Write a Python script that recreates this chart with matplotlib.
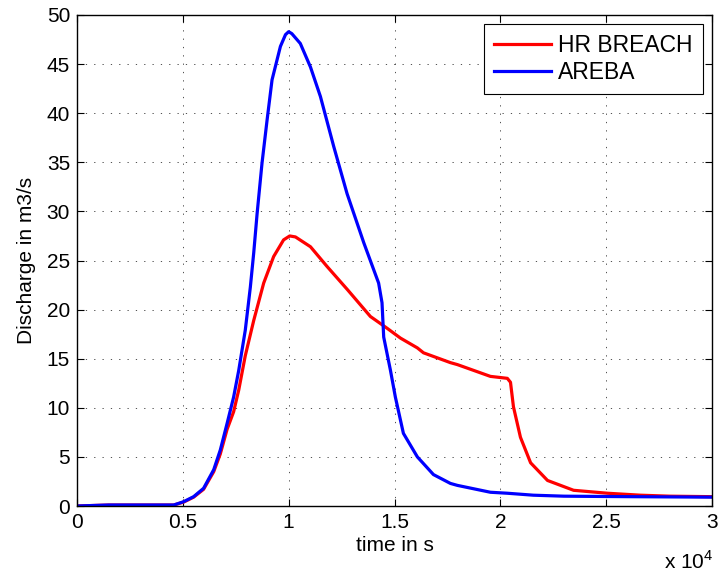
import matplotlib.pyplot as plt

# digitised hydrographs (time in s, discharge in m3/s)
t_hr = [0, 1500, 4500, 4570, 5040, 5510, 5980, 6460, 6770, 7090, 7400, 7640, 7950,
        8350, 8820, 9290, 9760, 10050, 10320, 11030, 11810, 12790, 13860, 14650,
        15280, 16080, 16370, 17640, 17970, 19530, 20330, 20480, 20620, 20950, 21430,
        22230, 23460, 25060, 26620, 28000, 30000]
q_hr = [0, 0.1, 0.1, 0.1, 0.4, 0.9, 1.7, 3.5, 5.3, 7.8, 9.6, 11.8, 15.3,
        18.9, 22.7, 25.4, 27.1, 27.5, 27.4, 26.4, 24.4, 22.0, 19.3, 18.1,
        17.1, 16.1, 15.6, 14.6, 14.4, 13.2, 13.0, 12.6, 10.1, 7.0, 4.4,
        2.6, 1.6, 1.3, 1.1, 1.0, 0.95]

t_ar = [0, 1500, 4500, 4570, 5040, 5510, 5980, 6460, 6770, 7090, 7400, 7640, 7950,
        8190, 8350, 8510, 8740, 8980, 9215, 9610, 9850, 10000, 10150, 10550, 11030,
        11500, 12130, 12760, 13550, 14250, 14410, 14490, 14810, 15040, 15420, 16080,
        16840, 17640, 17970, 19530, 20330, 21560, 23000, 26150, 30000]
q_ar = [0, 0.1, 0.1, 0.1, 0.44, 0.95, 1.8, 3.7, 5.7, 8.4, 11.1, 13.8, 17.9,
        22.3, 25.8, 29.8, 34.9, 39.3, 43.4, 46.8, 48.0, 48.3, 48.1, 47.1, 44.7,
        41.7, 36.6, 31.8, 26.8, 22.7, 20.7, 17.2, 13.8, 11.1, 7.4, 5.0,
        3.2, 2.3, 2.1, 1.4, 1.3, 1.1, 1.0, 0.95, 0.9]

xticks = [0, 5000, 10000, 15000, 20000, 25000, 30000]
xlabels = ['0', '0.5', '1', '1.5', '2', '2.5', '3']

plt.rcParams['font.family'] = ['Liberation Sans', 'DejaVu Sans']
plt.rcParams['mathtext.fontset'] = 'custom'
plt.rcParams['mathtext.rm'] = 'Liberation Sans'

fig = plt.figure(figsize=(7.22, 5.81), dpi=100)
ax = fig.add_axes([77 / 722, 75 / 581, 635 / 722, 491 / 581])

ax.plot(t_hr, q_hr, color='#ff0000', lw=2.3, label='HR BREACH')
ax.plot(t_ar, q_ar, color='#0000ff', lw=2.3, label='AREBA')

ax.set_xlim(0, 30000)
ax.set_ylim(0, 50)
ax.set_xticks(xticks)
ax.set_xticklabels(xlabels)
ax.set_yticks(range(0, 51, 5))
ax.tick_params(direction='in', top=True, right=True, labelsize=15, length=5, pad=5)
ax.grid(True, linestyle=(0, (1.5, 8.5)), color='#333333', linewidth=0.6)
for s in ax.spines.values():
    s.set_linewidth(1.0)

ax.set_xlabel('time in s', fontsize=15, labelpad=3)
ax.set_ylabel('Discharge in m3/s', fontsize=15, labelpad=8)
fig.text(713 / 722, 8 / 581, r'x 10$^4$', ha='right', va='bottom', fontsize=15)

leg = ax.legend(loc='upper right', fontsize=16.5, fancybox=False, framealpha=1,
                edgecolor='black', handlelength=2.5, handletextpad=0.3,
                labelspacing=0.15, borderpad=0.45, borderaxespad=0.4)
leg.get_frame().set_linewidth(0.8)

fig.savefig('out.png', dpi=100)
